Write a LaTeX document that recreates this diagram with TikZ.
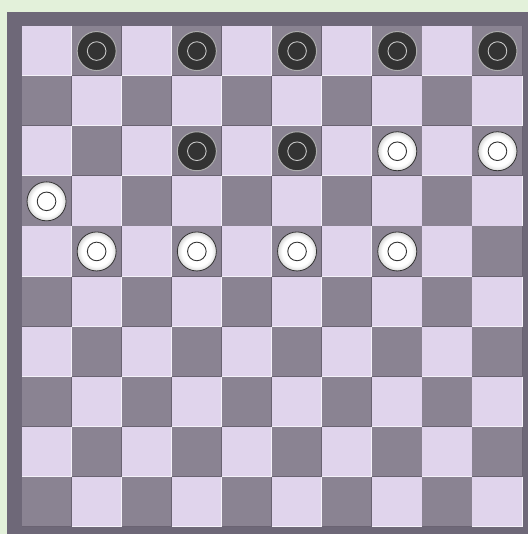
\documentclass[tikz,border=0pt]{standalone}
\definecolor{bg}{HTML}{E3F1DA}
\definecolor{framec}{HTML}{6E6878}
\definecolor{lightsq}{HTML}{E0D4EC}
\definecolor{darksq}{HTML}{8A8392}
\definecolor{blackpc}{HTML}{333333}
\definecolor{darkedge}{HTML}{6A6372}
\pgfdeclareradialshading{pcwhite}{\pgfpoint{0bp}{0bp}}{color(0bp)=(white); color(19bp)=(white); color(25bp)=(black!16); color(50bp)=(black!16)}
\begin{document}
\begin{tikzpicture}[x=1pt,y=-1pt,
  sqbox/.style={rectangle,minimum size=50.1pt,inner sep=0pt,outer sep=0pt},
  lightbox/.style={sqbox,fill=lightsq},
  darkbox/.style={sqbox,fill=darksq},
  lightbevel/.style={draw=white,opacity=0.7,line width=0.8pt},
  darkbevel/.style={draw=darkedge,line width=0.8pt},
  darkpc/.style={circle,minimum size=39pt,inner sep=0pt,fill=blackpc,draw=black!32,line width=1pt},
  whitepc/.style={circle,minimum size=39pt,inner sep=0pt,shading=pcwhite,draw=blackpc,line width=0.8pt},
  darkring/.style={draw=black!22,line width=0.9pt},
  whitering/.style={draw=blackpc,line width=0.9pt}]
\fill[bg] (0,0) rectangle (528,534);
\useasboundingbox (0,0) rectangle (528,534);
\fill[framec] (7,12) rectangle (528,534);
\foreach \r in {0,...,9}{
  \foreach \c in {0,...,9}{
    \pgfmathtruncatemacro\pp{mod(\r+\c,2)}
    \ifnum\pp=0
      \node[lightbox] (sq-\r-\c) at ({21.5+50.1*\c+25.05},{26+50.1*\r+25.05}) {};
      \draw[lightbevel] ([xshift=-0.4pt]sq-\r-\c.north east) -- ([xshift=-0.4pt,yshift=0.4pt]sq-\r-\c.south east) -- ([yshift=0.4pt]sq-\r-\c.south west);
    \else
      \node[darkbox] (sq-\r-\c) at ({21.5+50.1*\c+25.05},{26+50.1*\r+25.05}) {};
      \draw[darkbevel] ([xshift=-0.4pt]sq-\r-\c.north east) -- ([xshift=-0.4pt,yshift=0.4pt]sq-\r-\c.south east) -- ([yshift=0.4pt]sq-\r-\c.south west);
    \fi
  }
}
% dark pieces
\foreach \r/\c in {0/1,0/3,0/5,0/7,0/9,2/3,2/5}{
  \node[darkpc] (pc-\r-\c) at (sq-\r-\c) {};
  \draw[darkring] (pc-\r-\c.center) circle (9.3pt);
}
% white pieces
\foreach \r/\c in {2/7,2/9,3/0,4/1,4/3,4/5,4/7}{
  \node[whitepc] (pc-\r-\c) at (sq-\r-\c) {};
  \draw[whitering] (pc-\r-\c.center) circle (9.3pt);
}
\end{tikzpicture}
\end{document}
